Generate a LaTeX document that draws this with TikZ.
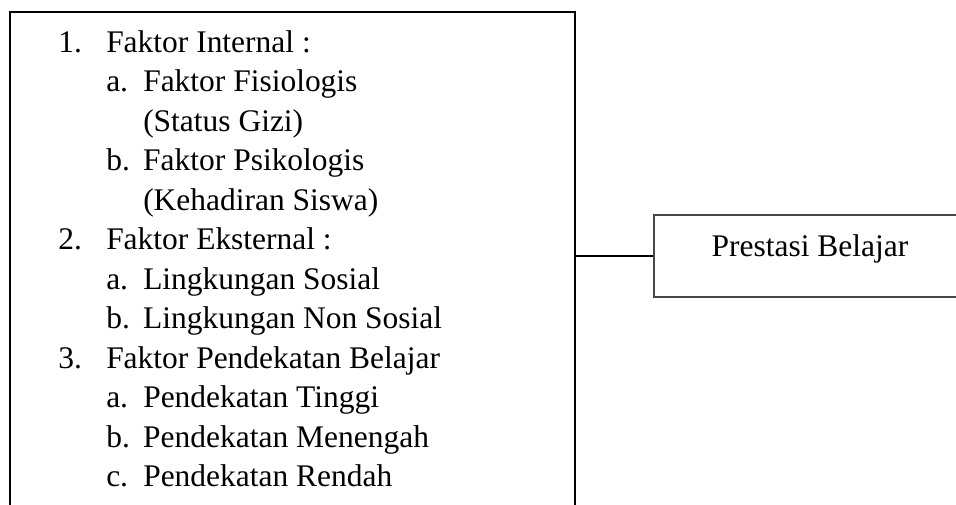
\documentclass[tikz,border=0pt]{standalone}
\usepackage{fontspec}
\setmainfont{Liberation Serif}
\usetikzlibrary{positioning}

\begin{document}
\begin{tikzpicture}[
  font=\fontsize{23.6pt}{28pt}\selectfont,
  outer/.style={draw,line width=1.5pt,minimum width=423.75pt,minimum height=450pt,anchor=north west,inner sep=0pt},
  target/.style={draw=black!72,line width=1.9pt,minimum width=234pt,minimum height=61.5pt,text height=12pt,text depth=12pt,inner sep=0pt},
  item/.style={anchor=base west,inner sep=0pt},
  link/.style={line width=1.3pt}]
\useasboundingbox (0,0) rectangle (717pt,-378pt);
\node[outer](factors) at (6.75pt,-8.25pt){};
\node[item](int) at (43.5pt,-39pt){\makebox[36pt][l]{1.}Faktor Internal :};
\node[item](fis) at (79.5pt,-68.6pt){\makebox[27.75pt][l]{a.}Faktor Fisiologis};
\node[item](gizi) at (107.25pt,-98.25pt){(Status Gizi)};
\node[item](psi) at (79.5pt,-127.9pt){\makebox[27.75pt][l]{b.}Faktor Psikologis};
\node[item](hadir) at (107.25pt,-157.5pt){(Kehadiran Siswa)};
\node[item](eks) at (43.5pt,-187.1pt){\makebox[36pt][l]{2.}Faktor Eksternal :};
\node[item](sos) at (79.5pt,-216.75pt){\makebox[27.75pt][l]{a.}Lingkungan Sosial};
\node[item](nonsos) at (79.5pt,-246.4pt){\makebox[27.75pt][l]{b.}Lingkungan Non Sosial};
\node[item](pend) at (43.5pt,-276pt){\makebox[36pt][l]{3.}Faktor Pendekatan Belajar};
\node[item](tinggi) at (79.5pt,-305.6pt){\makebox[27.75pt][l]{a.}Pendekatan Tinggi};
\node[item](sedang) at (79.5pt,-335.25pt){\makebox[27.75pt][l]{b.}Pendekatan Menengah};
\node[item](rendah) at (79.5pt,-364.9pt){\makebox[27.75pt][l]{c.}Pendekatan Rendah};
\node[target](prestasi) at (607.5pt,-192pt){Prestasi Belajar};
\draw[link](factors.east |- prestasi.west)--(prestasi.west);
\end{tikzpicture}
\end{document}
